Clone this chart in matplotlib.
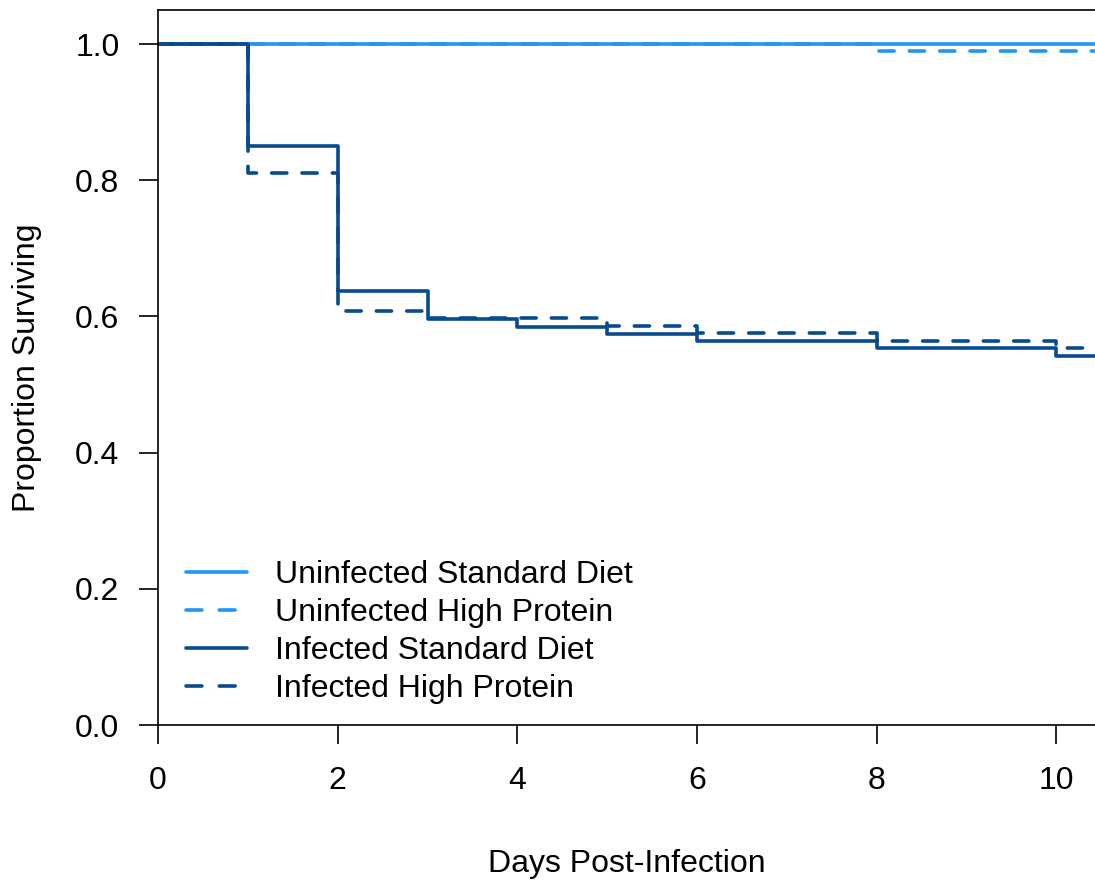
import matplotlib
matplotlib.use("Agg")
import matplotlib.pyplot as plt
from matplotlib.lines import Line2D

plt.rcParams['font.family'] = ['Liberation Sans', 'DejaVu Sans']

# Kaplan-Meier survival estimates (step functions, value holds until next day)
uninf_std_days = [0, 11]
uninf_std_surv = [1.0, 1.0]

uninf_hp_days = [0, 8, 11]
uninf_hp_surv = [1.0, 0.99, 0.99]

inf_std_days = [0, 1, 2, 3, 4, 5, 6, 8, 10, 11]
inf_std_surv = [1.0, 0.85, 0.638, 0.596, 0.585, 0.574, 0.564, 0.553, 0.542, 0.542]

inf_hp_days = [0, 1, 2, 3, 5, 6, 8, 10, 11]
inf_hp_surv = [1.0, 0.81, 0.608, 0.597, 0.586, 0.575, 0.564, 0.553, 0.553]

labels = ["Uninfected Standard Diet", "Uninfected High Protein",
          "Infected Standard Diet", "Infected High Protein"]
light_blue = "#2196F3"
dark_blue = "#084A8E"

x_ticks = [0, 2, 4, 6, 8, 10]
y_ticks = [0.0, 0.2, 0.4, 0.6, 0.8, 1.0]

fs = 23

fig = plt.figure(figsize=(10.95, 8.8), dpi=100)
ax = fig.add_axes([158 / 1095, 1 - 725 / 880, (1095 - 158) / 1095, (725 - 10) / 880])

lw = 2.6
dash = (0, (4.2, 4.2))
series = [
    (uninf_std_days, uninf_std_surv, light_blue, "-"),
    (uninf_hp_days, uninf_hp_surv, light_blue, dash),
    (inf_std_days, inf_std_surv, dark_blue, "-"),
    (inf_hp_days, inf_hp_surv, dark_blue, dash),
]
handles = []
for (d, s, c, ls), lab in zip(series, labels):
    ax.step(d, s, where="post", color=c, lw=lw, linestyle=ls,
            dash_capstyle="round", solid_capstyle="butt")
    hls = "-" if ls == "-" else (0, (4.4, 4.8))
    handles.append(Line2D([], [], color=c, lw=lw, linestyle=hls,
                          dash_capstyle="round", solid_capstyle="round", label=lab))

ax.set_xlim(0, 10.43)
ax.set_ylim(0, 1.05)
ax.set_xticks(x_ticks)
ax.set_xticklabels([str(t) for t in x_ticks])
ax.set_yticks(y_ticks)
ax.set_yticklabels([f"{t:.1f}" for t in y_ticks])

for side in ["left", "bottom", "top"]:
    ax.spines[side].set_linewidth(1.2)
    ax.spines[side].set_color("black")
ax.spines["right"].set_visible(False)

ax.tick_params(axis="both", direction="out", length=13.8, width=1.2,
               labelsize=fs, colors="black")
ax.tick_params(axis="y", pad=14)
ax.tick_params(axis="x", pad=16)

ax.set_xlabel("Days Post-Infection", fontsize=fs, labelpad=38)
ax.set_ylabel("Proportion Surviving", fontsize=fs, labelpad=24)

leg = ax.legend(handles=handles, loc="upper left", frameon=False,
                fontsize=fs, handlelength=1.9, handletextpad=0.88,
                labelspacing=0.25, borderaxespad=0.0, borderpad=0.0)
leg.set_bbox_to_anchor(((186 - 158) / (1095 - 158), (725 - 560) / 715), transform=ax.transAxes)

fig.savefig("out.png", dpi=100)
